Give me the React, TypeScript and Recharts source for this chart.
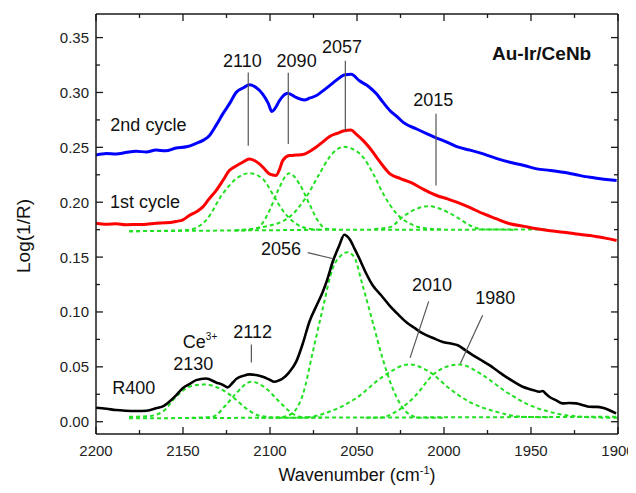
import React from 'react';
import { LineChart, Line, XAxis, YAxis, ReferenceLine, ReferenceDot, Label } from 'recharts';

const FONT = '"Liberation Sans", Arial, Helvetica, sans-serif';

// axis ticks (major + minor)
const xTicks = [2200, 2175, 2150, 2125, 2100, 2075, 2050, 2025, 2000, 1975, 1950, 1925, 1900];
const yTicks = [0, 0.025, 0.05, 0.075, 0.1, 0.125, 0.15, 0.175, 0.2, 0.225, 0.25, 0.275, 0.3, 0.325, 0.35];

// measured spectra: [wavenumber, Log(1/R)]
const cycle2 = [
  [2200, 0.2431], [2194, 0.2445], [2188.5, 0.244], [2183, 0.2452], [2177, 0.2464], [2171, 0.2458],
  [2165.5, 0.2476], [2160, 0.2468], [2154, 0.2494], [2148, 0.2505], [2142.5, 0.2536], [2138, 0.2568],
  [2134.9, 0.2606], [2131, 0.27], [2127.2, 0.2803], [2123, 0.2905], [2119.5, 0.3], [2115, 0.3045],
  [2111.9, 0.307], [2108, 0.3045], [2104.2, 0.2985], [2101, 0.29], [2098.9, 0.2827], [2096.5, 0.287],
  [2094.6, 0.2925], [2089.8, 0.2994], [2085, 0.2955], [2080.3, 0.2931], [2077, 0.295], [2073.6, 0.297],
  [2070, 0.301], [2065.9, 0.306], [2062, 0.311], [2057.3, 0.316], [2053.4, 0.3165], [2048.6, 0.3106],
  [2043, 0.305], [2038.7, 0.2985], [2035, 0.291], [2031, 0.2834], [2027, 0.278], [2023.4, 0.2727],
  [2015.7, 0.2667], [2010, 0.2625], [2004.2, 0.2585], [1998, 0.2545], [1992.7, 0.2506], [1985, 0.2475],
  [1977.4, 0.244], [1970, 0.24], [1962.1, 0.2364], [1954, 0.2335], [1946.7, 0.2304], [1939, 0.229],
  [1931.4, 0.2273], [1924, 0.225], [1916.1, 0.2227], [1908, 0.221], [1900.8, 0.2197],
];

const cycle1 = [
  [2200, 0.1809], [2194, 0.18], [2188.5, 0.1804], [2183, 0.1795], [2177, 0.1797], [2171, 0.18],
  [2165.5, 0.1809], [2160, 0.1812], [2154, 0.1825], [2150, 0.184], [2146.4, 0.1879], [2142, 0.1915],
  [2138.7, 0.1955], [2135, 0.203], [2131, 0.2106], [2127, 0.22], [2123.4, 0.2288], [2119.5, 0.233],
  [2115.7, 0.2364], [2111.9, 0.2394], [2109, 0.238], [2106.1, 0.2349], [2103, 0.23], [2100.4, 0.2258],
  [2096.6, 0.2243], [2094.5, 0.23], [2092.7, 0.2379], [2088.9, 0.2425], [2085, 0.243], [2081.2, 0.2434],
  [2077, 0.2465], [2073.6, 0.25], [2070, 0.2545], [2065.9, 0.2597], [2061, 0.263], [2057.3, 0.2652],
  [2053.4, 0.2658], [2050.5, 0.262], [2046.4, 0.2561], [2042, 0.248], [2038.7, 0.2409], [2035, 0.233],
  [2031, 0.2258], [2025, 0.2215], [2019.5, 0.2182], [2012, 0.212], [2004.2, 0.2061], [1998, 0.203],
  [1992.7, 0.2], [1985, 0.195], [1977.4, 0.1895], [1970, 0.185], [1962.1, 0.1804], [1954, 0.178],
  [1946.7, 0.1758], [1939, 0.174], [1931.4, 0.1727], [1924, 0.171], [1916.1, 0.1697], [1908, 0.1675],
  [1900.8, 0.1652],
];

const r400 = [
  [2200, 0.0127], [2194, 0.0118], [2188.5, 0.0106], [2183, 0.01], [2177, 0.0097], [2171, 0.01],
  [2165.5, 0.0122], [2161, 0.0145], [2157.9, 0.0182], [2154, 0.024], [2150.2, 0.0304], [2146, 0.0345],
  [2142.5, 0.0379], [2136.8, 0.0394], [2131, 0.0358], [2127, 0.0335], [2124.3, 0.0313], [2121.5, 0.0355],
  [2119.5, 0.0388], [2115, 0.042], [2111.9, 0.0431], [2108, 0.0425], [2104.2, 0.0409], [2100.5, 0.0385],
  [2097.5, 0.0364], [2095, 0.0375], [2092.7, 0.0394], [2089, 0.045], [2085, 0.0545], [2081, 0.072],
  [2077.4, 0.0909], [2073.5, 0.105], [2069.7, 0.1182], [2067, 0.13], [2064, 0.1455], [2060.2, 0.1606],
  [2057.3, 0.1704], [2054.4, 0.1667], [2051.5, 0.158], [2048.6, 0.1485], [2045, 0.136], [2041, 0.1243],
  [2036, 0.115], [2031.4, 0.1061], [2026.5, 0.098], [2021.8, 0.0909], [2017, 0.0855], [2012.2, 0.0804],
  [2006, 0.076], [2000.7, 0.0727], [1996, 0.0712], [1992.1, 0.0697], [1988, 0.0655], [1983.5, 0.0606],
  [1978.5, 0.056], [1973.9, 0.0515], [1969, 0.046], [1964.4, 0.0409], [1959.5, 0.036], [1954.8, 0.0318],
  [1949, 0.029], [1945, 0.0273], [1943.3, 0.028], [1941.5, 0.0255], [1939.5, 0.0227], [1935.5, 0.0195],
  [1931.8, 0.0167], [1928, 0.017], [1924.1, 0.0167], [1920, 0.015], [1916.5, 0.0136], [1912, 0.0135],
  [1908.8, 0.0127], [1905, 0.0105], [1901.1, 0.0076],
];

// fitted components, 1st cycle
const fit1Base = [[2181, 0.1736], [2140, 0.174], [2100, 0.1745], [2050, 0.175], [2000, 0.175], [1941, 0.1752]];
const fit1A = [
  [2181, 0.1736], [2160, 0.174], [2146.4, 0.175], [2136.8, 0.1834], [2127.2, 0.2076], [2119.5, 0.2213],
  [2111.9, 0.2264], [2104.2, 0.2213], [2098.5, 0.2076], [2092.7, 0.1925], [2085, 0.1804], [2077.4, 0.1758],
  [2070, 0.1748],
];
const fit1B = [
  [2120, 0.1742], [2108, 0.1758], [2100.4, 0.192], [2095.6, 0.21], [2088.9, 0.2264], [2083.1, 0.2167],
  [2077.4, 0.1985], [2072.6, 0.1834], [2067.8, 0.1758], [2060, 0.175],
];
const fit1C = [
  [2120, 0.1745], [2104.2, 0.1773], [2088.9, 0.1864], [2079.3, 0.2045], [2071.6, 0.2258], [2065.9, 0.2409],
  [2057.3, 0.2506], [2054, 0.2494], [2046.4, 0.2409], [2040.6, 0.2258], [2034.9, 0.2076], [2027.2, 0.1895],
  [2019.5, 0.1804], [2011.9, 0.1764], [2000, 0.1752],
];
const fit1D = [
  [2040, 0.1755], [2031, 0.1773], [2023.4, 0.187], [2015.7, 0.194], [2009, 0.1964], [2002.3, 0.194],
  [1992.7, 0.1864], [1985, 0.1788], [1977.4, 0.1752], [1960, 0.175],
];

// fitted components, R400
const fitRBase = [[2181, 0.0031], [2100, 0.0036], [2000, 0.004], [1900, 0.0045]];
const fitR1 = [
  [2181, 0.0045], [2170, 0.005], [2161.7, 0.0091], [2154, 0.0227], [2146.4, 0.0318], [2137.8, 0.034],
  [2129.1, 0.0304], [2121.5, 0.0227], [2113.8, 0.0122], [2106.1, 0.0055], [2095, 0.0036],
];
const fitR2 = [
  [2145, 0.0036], [2133, 0.0045], [2125.3, 0.0152], [2119.5, 0.0258], [2110.9, 0.0364], [2102.3, 0.0304],
  [2095.6, 0.0197], [2088.9, 0.0097], [2083.1, 0.0045], [2070, 0.0036],
];
const fitR3 = [
  [2105, 0.0036], [2095, 0.004], [2088.9, 0.0061], [2081.2, 0.0243], [2075.4, 0.0636], [2069.7, 0.1031],
  [2064, 0.1395], [2059.2, 0.1515], [2055.4, 0.1545], [2051.6, 0.15], [2046.8, 0.1243], [2041, 0.0909],
  [2035.3, 0.0576], [2029.5, 0.0304], [2021.8, 0.0091], [2014.2, 0.0036], [2000, 0.0036],
];
const fitR4 = [
  [2095, 0.0036], [2081.2, 0.0036], [2065.9, 0.0091], [2050.6, 0.0213], [2035.3, 0.0409], [2020, 0.0522],
  [2008.4, 0.0455], [1997, 0.0304], [1985.5, 0.0182], [1970.1, 0.0091], [1954.8, 0.0045], [1940, 0.004],
];
const fitR5 = [
  [2045, 0.0036], [2037.2, 0.0036], [2027.6, 0.0091], [2016.1, 0.0243], [2006.5, 0.0425], [1998.9, 0.05],
  [1991.2, 0.0522], [1977.8, 0.0425], [1964.4, 0.0273], [1950.9, 0.0152], [1935.6, 0.0076],
  [1920.3, 0.0045], [1905, 0.0036], [1900, 0.0036],
];

const fits = [fit1Base, fit1A, fit1B, fit1C, fit1D, fitRBase, fitR1, fitR2, fitR3, fitR4, fitR5];

// peak labels and their leader lines (data coordinates)
const notes = [
  { text: '2110', x: 2115.9, y: 0.3288 },
  { text: '2090', x: 2084.7, y: 0.3288 },
  { text: '2057', x: 2058.6, y: 0.3415 },
  { text: '2015', x: 2006.2, y: 0.2931 },
  { text: '2nd cycle', x: 2169.9, y: 0.2706 },
  { text: '1st cycle', x: 2171.8, y: 0.2006 },
  { text: '2056', x: 2093.7, y: 0.157 },
  { text: '2010', x: 2006.9, y: 0.1249 },
  { text: '1980', x: 1970.5, y: 0.1127 },
  { text: '2112', x: 2110, y: 0.0818 },
  { text: '2130', x: 2144.1, y: 0.0522 },
  { text: 'R400', x: 2178.3, y: 0.0304 },
];
const leaders = [
  [2112.5, 0.3182, 2112.5, 0.2515],
  [2089.5, 0.3179, 2089.5, 0.2531],
  [2056.7, 0.329, 2056.7, 0.2652],
  [2004.6, 0.2806, 2004.6, 0.2152],
  [2078.3, 0.154, 2063.6, 0.1485],
  [2008.8, 0.1097, 2019.5, 0.0582],
  [1977.8, 0.097, 1990.6, 0.0531],
  [2110.7, 0.0704, 2110.7, 0.054],
];

const toPts = (arr: number[][]) => arr.map(([x, y]) => ({ x, y }));
const isMajorX = (v: number) => v % 50 === 0;
const isMajorY = (v: number) => Math.abs(v * 20 - Math.round(v * 20)) < 1e-6;

const AXIS = '#1a1a1a';
const GREEN = '#22e022';

const BottomTick = ({ x, y, payload }: any) => {
  const major = isMajorX(payload.value);
  return (
    <g>
      <path d={`M${x},${y}V${y - (major ? 7 : 4)}`} stroke={AXIS} strokeWidth={1.3} fill="none" />
      {major && (
        <text x={x} y={y + 16} textAnchor="middle" dominantBaseline="central" fontSize={15} fontFamily={FONT} fill="#222">
          {payload.value}
        </text>
      )}
    </g>
  );
};

const TopTick = ({ x, y, payload }: any) => (
  <path d={`M${x},${y}V${y + (isMajorX(payload.value) ? 7 : 4)}`} stroke={AXIS} strokeWidth={1.3} fill="none" />
);

const LeftTick = ({ x, y, payload }: any) => {
  const major = isMajorY(payload.value);
  return (
    <g>
      <path d={`M${x},${y}H${x + (major ? 7 : 4)}`} stroke={AXIS} strokeWidth={1.3} fill="none" />
      {major && (
        <text x={x - 7} y={y} textAnchor="end" dominantBaseline="central" fontSize={15} fontFamily={FONT} fill="#222">
          {payload.value.toFixed(2)}
        </text>
      )}
    </g>
  );
};

const RightTick = ({ x, y, payload }: any) => (
  <path d={`M${x},${y}H${x - (isMajorY(payload.value) ? 7 : 4)}`} stroke={AXIS} strokeWidth={1.3} fill="none" />
);

const noteShape = (text: string) => (p: any) => (
  <text x={p.cx} y={p.cy} textAnchor="middle" dominantBaseline="central" fontSize={18} fontFamily={FONT} fill="#111">
    {text}
  </text>
);

export default function App() {
  const axisLine = { stroke: AXIS, strokeWidth: 1.5 };
  return (
    <div style={{ width: 628, height: 477 }}>
      <LineChart width={628} height={477} margin={{ top: 5, right: 17, bottom: 11, left: 0 }}>
        <XAxis
          dataKey="x"
          type="number"
          domain={[1900, 2200]}
          reversed
          allowDataOverflow
          ticks={xTicks}
          interval={0}
          height={40}
          tickSize={0}
          tickMargin={0}
          tickLine={false}
          stroke={AXIS}
          axisLine={axisLine}
          tick={<BottomTick />}
        >
          <Label
            content={({ viewBox }: any) => (
              <text x={viewBox.x + viewBox.width / 2} y={viewBox.y + 47} textAnchor="middle" fontSize={18} fontFamily={FONT} fill="#111">
                Wavenumber (cm<tspan dy={-7} fontSize={11}>-1</tspan><tspan dy={7}>)</tspan>
              </text>
            )}
          />
        </XAxis>
        <XAxis
          xAxisId="top"
          dataKey="x"
          type="number"
          orientation="top"
          domain={[1900, 2200]}
          reversed
          allowDataOverflow
          ticks={xTicks}
          interval={0}
          height={1}
          tickSize={0}
          tickMargin={0}
          tickLine={false}
          stroke={AXIS}
          axisLine={axisLine}
          tick={<TopTick />}
        />
        <YAxis
          type="number"
          domain={[-0.0112, 0.3715]}
          allowDataOverflow
          ticks={yTicks}
          interval={0}
          width={88}
          tickSize={0}
          tickMargin={0}
          tickLine={false}
          stroke={AXIS}
          axisLine={axisLine}
          tick={<LeftTick />}
        >
          <Label
            content={({ viewBox }: any) => {
              const cx = viewBox.x + 22;
              const cy = viewBox.y + viewBox.height / 2 + 12;
              return (
                <text x={cx} y={cy} transform={`rotate(-90, ${cx}, ${cy})`} textAnchor="middle" fontSize={19} fontFamily={FONT} fill="#111">
                  Log(1/R)
                </text>
              );
            }}
          />
        </YAxis>
        <YAxis
          yAxisId="right"
          orientation="right"
          type="number"
          domain={[-0.0112, 0.3715]}
          allowDataOverflow
          ticks={yTicks}
          interval={0}
          width={1}
          tickSize={0}
          tickMargin={0}
          tickLine={false}
          stroke={AXIS}
          axisLine={axisLine}
          tick={<RightTick />}
        />

        {fits.map((f, i) => (
          <Line
            key={'fit' + i}
            data={toPts(f)}
            dataKey="y"
            type="monotone"
            stroke={GREEN}
            strokeWidth={2}
            strokeDasharray="4 3"
            dot={false}
            isAnimationActive={false}
          />
        ))}
        <Line data={toPts(cycle2)} dataKey="y" type="monotone" stroke="#0000ff" strokeWidth={3} dot={false} isAnimationActive={false} />
        <Line data={toPts(cycle1)} dataKey="y" type="monotone" stroke="#ff0000" strokeWidth={3} dot={false} isAnimationActive={false} />
        <Line data={toPts(r400)} dataKey="y" type="monotone" stroke="#000000" strokeWidth={2.6} dot={false} isAnimationActive={false} />

        {leaders.map(([x1, y1, x2, y2], i) => (
          <ReferenceLine key={'ld' + i} segment={[{ x: x1, y: y1 }, { x: x2, y: y2 }]} stroke="#555" strokeWidth={1.2} />
        ))}
        {notes.map((n, i) => (
          <ReferenceDot key={'nt' + i} x={n.x} y={n.y} r={0} shape={noteShape(n.text)} />
        ))}
        <ReferenceDot
          x={2150.1}
          y={0.0722}
          r={0}
          shape={(p: any) => (
            <text x={p.cx} y={p.cy} textAnchor="start" dominantBaseline="central" fontSize={18} fontFamily={FONT} fill="#111">
              Ce<tspan dy={-6} fontSize={10}>3+</tspan>
            </text>
          )}
        />
        <ReferenceDot
          x={1943.9}
          y={0.3355}
          r={0}
          shape={(p: any) => (
            <text x={p.cx} y={p.cy} textAnchor="middle" dominantBaseline="central" fontSize={19} fontWeight="bold" fontFamily={FONT} fill="#111">
              Au-Ir/CeNb
            </text>
          )}
        />
      </LineChart>
    </div>
  );
}
